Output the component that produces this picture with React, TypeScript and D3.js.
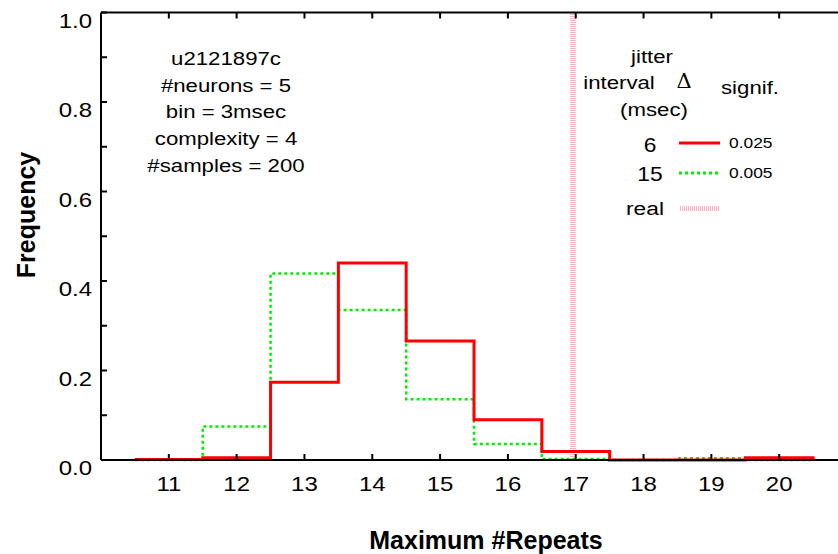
import * as d3 from 'd3';

const bins = [11, 12, 13, 14, 15, 16, 17, 18, 19, 20];
const jitter6 = [0.001, 0.005, 0.174, 0.44, 0.266, 0.09, 0.019, 0, 0, 0.005];
const jitter15 = [0, 0.075, 0.417, 0.335, 0.136, 0.036, 0.002, 0, 0.004, 0];
const realRepeats = 16.96;
const yMajor = [0, 0.2, 0.4, 0.6, 0.8, 1.0];
const yMinor = [0.1, 0.3, 0.5, 0.7, 0.9];
const infoLines = ['u2121897c', '#neurons = 5', 'bin = 3msec', 'complexity = 4', '#samples = 200'];
const legendRows = [
  { jitter: '6', signif: '0.025', color: '#ff0000', dash: 'none' },
  { jitter: '15', signif: '0.005', color: '#00ee00', dash: '3,3' },
];

const width = 838;
const height = 554;
const font = 'Liberation Sans, Arial, Helvetica, sans-serif';
const pink = '#ffb0c2';

// the original's sans text is a little wider than Liberation Sans, so stretch it
const T = ({ x, y, size = 18, sx = 1.2, anchor = 'middle', children, ...rest }: any) => (
  <text transform={`translate(${x},${y}) scale(${sx},1)`} textAnchor={anchor}
    fontFamily={font} fontSize={size} {...rest}>{children}</text>
);

export default function App() {
  const x = d3.scaleLinear().domain([10, 21]).range([101, 847]);
  const y = d3.scaleLinear().domain([0, 1]).range([460, 12.5]);

  const stepLine = (vals: number[]) => {
    const pts: [number, number][] = [];
    bins.forEach((b, i) => {
      pts.push([b - 0.5, vals[i]]);
      pts.push([b + 0.5, vals[i]]);
    });
    pts.push([bins[bins.length - 1] + 0.5, 0]);
    return d3.line<[number, number]>()
      .x((d) => x(d[0]))
      .y((d) => y(d[1]))(pts) as string;
  };

  const x0 = x(10);
  const y0 = y(0);
  const yTop = y(1);
  const xr = x(realRepeats);

  return (
    <div style={{ position: 'fixed', left: 0, top: 0 }}>
      <svg width={width} height={height} style={{ display: 'block', background: '#fff' }}>
        <defs>
          <pattern id="hstripe" width={4} height={2} patternUnits="userSpaceOnUse">
            <rect width={4} height={1} fill={pink} />
          </pattern>
          <pattern id="vstripe" width={2} height={4} patternUnits="userSpaceOnUse">
            <rect width={1} height={4} fill={pink} />
          </pattern>
        </defs>

        {/* real value */}
        <rect x={Math.round(xr) - 3} y={yTop} width={6} height={y0 - yTop} fill="url(#hstripe)" />

        <path d={stepLine(jitter15)} fill="none" stroke="#00ee00" strokeWidth={2.5} strokeDasharray="3,3" />
        <path d={stepLine(jitter6)} fill="none" stroke="#ff0000" strokeWidth={3} />

        {/* axes */}
        <line x1={x0} x2={width} y1={y0} y2={y0} stroke="#000" strokeWidth={2} />
        <line x1={x0} x2={width} y1={yTop} y2={yTop} stroke="#000" strokeWidth={2} />
        <line x1={x0} x2={x0} y1={yTop} y2={y0} stroke="#000" strokeWidth={2} />
        {bins.map((b) => (
          <g key={b}>
            <line x1={x(b)} x2={x(b)} y1={y0} y2={y0 - 6} stroke="#000" strokeWidth={2} />
            <line x1={x(b)} x2={x(b)} y1={yTop} y2={yTop + 6} stroke="#000" strokeWidth={2} />
            <T x={x(b)} y={491} size={20}>{b}</T>
          </g>
        ))}
        {yMajor.concat(yMinor).map((v) => (
          <line key={v} x1={x0} x2={x0 + 6} y1={y(v)} y2={y(v)} stroke="#000" strokeWidth={2} />
        ))}
        {yMajor.map((v) => (
          <T key={v} x={92} y={y(v) + 15} size={20} anchor="end">{v.toFixed(1)}</T>
        ))}

        <text transform={`translate(35, 215) rotate(-90)`} textAnchor="middle"
          fontFamily={font} fontSize={25} fontWeight="bold">Frequency</text>
        <text x={486} y={549} textAnchor="middle" fontFamily={font} fontSize={25} fontWeight="bold">
          Maximum #Repeats
        </text>

        {/* info block */}
        {infoLines.map((t, i) => (
          <T key={t} x={226} y={65 + i * 26.7} size={18.5}>{t}</T>
        ))}

        {/* legend */}
        <T x={652} y={63} size={18.5}>jitter</T>
        <T x={619} y={89} size={18.5}>interval</T>
        <text x={684} y={88} textAnchor="middle" fontFamily="DejaVu Serif, serif" fontSize={21}>Δ</text>
        <T x={750} y={94} size={18.5}>signif.</T>
        <T x={654} y={116} size={18.5}>(msec)</T>
        {legendRows.map((r, i) => (
          <g key={r.jitter}>
            <T x={650} y={152 + i * 29} size={20} sx={1.14}>{r.jitter}</T>
            <line x1={679} x2={720} y1={143 + i * 30} y2={143 + i * 30}
              stroke={r.color} strokeWidth={3} strokeDasharray={r.dash} />
            <T x={729} y={148 + i * 30} size={14.5} anchor="start">{r.signif}</T>
          </g>
        ))}
        <T x={664} y={215} size={19} anchor="end">real</T>
        <rect x={679} y={206} width={41} height={5} fill="url(#vstripe)" />
      </svg>
    </div>
  );
}
